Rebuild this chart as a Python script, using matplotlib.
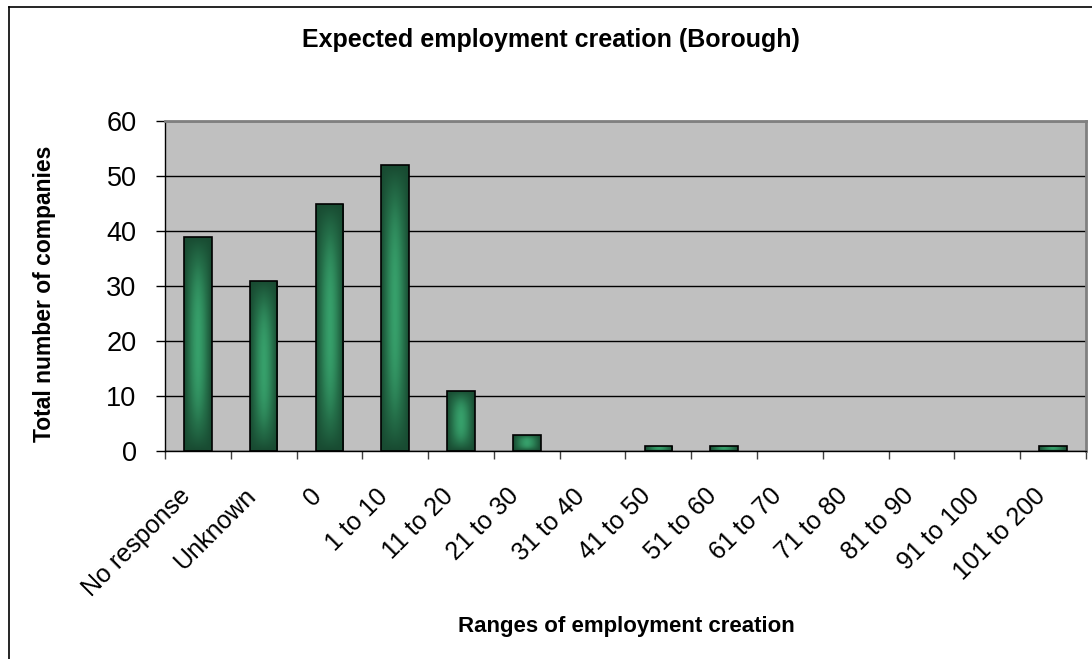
import numpy as np
import matplotlib
matplotlib.use('Agg')
import matplotlib.pyplot as plt
import matplotlib.transforms as mtransforms
from matplotlib.colors import LinearSegmentedColormap
from matplotlib.lines import Line2D

plt.rcParams['font.family'] = ['Liberation Sans', 'DejaVu Sans']

categories = ['No response', 'Unknown', '0', '1 to 10', '11 to 20', '21 to 30',
              '31 to 40', '41 to 50', '51 to 60', '61 to 70', '71 to 80',
              '81 to 90', '91 to 100', '101 to 200']
companies = [39, 31, 45, 52, 11, 3, 0, 1, 1, 0, 0, 0, 0, 1]

W, H = 1092, 659
fig = plt.figure(figsize=(W / 100, H / 100), dpi=100)
ax = fig.add_axes([165 / W, 1 - 451 / H, 921 / W, 330 / H])
ax.set_facecolor('#c0c0c0')

x = np.arange(len(categories))
edges = ['black' if c > 0 else 'none' for c in companies]
bars = ax.bar(x, companies, width=0.42, facecolor='none', edgecolor=edges,
              linewidth=1.2, zorder=3)

# gradient fill: dark edges, light green centre
cmap = LinearSegmentedColormap.from_list('g', ['#184a31', '#25704a', '#37a06b'])
u = np.linspace(-1, 1, 60)
v = np.linspace(-1, 1, 200)
U, V = np.meshgrid(u, v)
grad = (1 - np.abs(U) ** 1.6) * np.clip(1 - np.abs(V) ** 2.5, 0, 1)
for b in bars:
    h = b.get_height()
    if h <= 0:
        continue
    x0, w = b.get_x(), b.get_width()
    im = ax.imshow(grad, cmap=cmap, vmin=0, vmax=1, aspect='auto',
                   extent=[x0, x0 + w, 0, h], zorder=2, interpolation='bilinear')
    im.set_clip_path(b)

ax.set_xlim(-0.5, len(categories) - 0.5)
ax.set_ylim(0, 60)
ax.set_yticks(range(0, 61, 10))
ax.yaxis.grid(True, color='black', linewidth=1)
ax.set_axisbelow(True)

ax.set_xticks(np.arange(len(categories) + 1) - 0.5, minor=False)
ax.set_xticklabels([])
ax.set_xticks(x, minor=True)
ax.set_xticklabels(categories, minor=True, rotation=45, ha='right',
                   rotation_mode='anchor', fontsize=18)
ax.tick_params(axis='x', which='minor', length=0, pad=0)
ax.tick_params(axis='x', which='major', length=6, width=1, color='#404040')
ax.tick_params(axis='y', length=6.5, width=1, labelsize=19.5, pad=14)

offset = mtransforms.ScaledTranslation(-0.20, -0.33, fig.dpi_scale_trans)
for lbl in ax.get_xticklabels(minor=True):
    lbl.set_transform(lbl.get_transform() + offset)

for s in ['top', 'right']:
    ax.spines[s].set_color('#808080')
    ax.spines[s].set_linewidth(2)
for s in ['left', 'bottom']:
    ax.spines[s].set_color('black')
    ax.spines[s].set_linewidth(1)

fig.text(551 / W, 1 - 47 / H, 'Expected employment creation (Borough)',
         ha='center', va='baseline', fontsize=18, fontweight='bold')
fig.text(45 / W, 1 - 294 / H, 'Total number of companies', ha='center',
         va='center', rotation=90, fontsize=16.5, fontweight='bold')
fig.text(626 / W, 1 - 632 / H, 'Ranges of employment creation', ha='center',
         va='baseline', fontsize=16, fontweight='bold')

# chart border
fig.add_artist(Line2D([9 / W, 9 / W], [0, 1 - 7 / H], color='black', lw=1.2))
fig.add_artist(Line2D([9 / W, 1], [1 - 7 / H, 1 - 7 / H], color='black', lw=1.2))

fig.savefig('out.png', dpi=100)
